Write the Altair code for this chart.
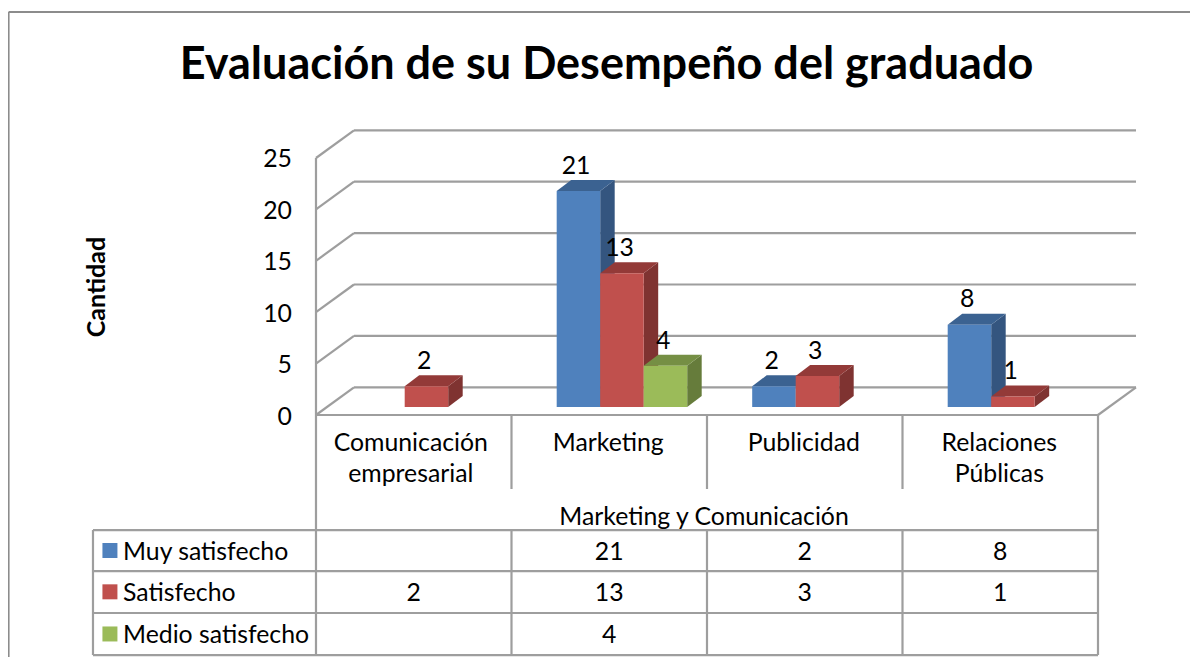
import altair as alt
import pandas as pd

categories = ["Comunicación\nempresarial", "Marketing", "Publicidad", "Relaciones\nPúblicas"]
group_label = "Marketing y Comunicación"
title = "Evaluación de su Desempeño del graduado"
axis_title = "Cantidad"
ticks = [0, 5, 10, 15, 20, 25]
series_names = ["Muy satisfecho", "Satisfecho", "Medio satisfecho"]
muy = [None, 21, 2, 8]
sat = [2, 13, 3, 1]
medio = [None, 4, None, None]
series_values = [muy, sat, medio]
front = ["#4F81BD", "#C0504D", "#9BBB59"]
side = ["#34557F", "#7F3331", "#667C3B"]
top = ["#3B6291", "#933A38", "#758F44"]

FONT = "Lato"
GRID = "#9E9E9E"
TEXT = "#000000"

# Layout, in chart units (x: categories, y: values)
XMIN, XMAX = -1.5754, 4.4706
YMIN, YMAX = -23.54, 39.59
WALL_DX, WALL_DY = 0.1944, 2.695
BAR_W, BAR_START = 0.2225, 0.2312
BAR_DX, BAR_DY = 0.0742, 1.07
BAR_BASE = 0.79
N = len(categories)
TBL_LEFT = -1.1407
ROW_LINES = [-11.19, -15.18, -19.26, -23.35]
ROW_MID = [-13.18, -17.2, -21.3]

x_s = alt.Scale(domain=[XMIN, XMAX], nice=False, zero=False)
y_s = alt.Scale(domain=[YMIN, YMAX], nice=False, zero=False)
X = alt.X("x:Q", scale=x_s, axis=None)
Y = alt.Y("y:Q", scale=y_s, axis=None)
X2 = alt.X2("x2:Q")
Y2 = alt.Y2("y2:Q")


def seg(x, y, x2, y2):
    return {"x": x, "y": y, "x2": x2, "y2": y2}


# frame and walls
grid_rows = []
for t in ticks:
    grid_rows.append(seg(0, t, WALL_DX, t + WALL_DY))
    grid_rows.append(seg(WALL_DX, t + WALL_DY, N + WALL_DX, t + WALL_DY))
grid_rows.append(seg(N, 0, N + WALL_DX, WALL_DY))
grid_rows.append(seg(0, 0, N, 0))
grid_rows.append(seg(0, ROW_LINES[-1], 0, 25))
grid_rows.append(seg(N, ROW_LINES[-1], N, 0))
for i in range(1, N):
    grid_rows.append(seg(i, 0, i, -7.2))
    grid_rows.append(seg(i, ROW_LINES[0], i, ROW_LINES[-1]))
grid_rows.append(seg(TBL_LEFT, ROW_LINES[0], TBL_LEFT, ROW_LINES[-1]))
for r in ROW_LINES:
    grid_rows.append(seg(TBL_LEFT, r, N, r))
grid = alt.Chart(pd.DataFrame(grid_rows)).mark_rule(color=GRID, strokeWidth=2.2).encode(x=X, y=Y, x2=X2, y2=Y2)

border = alt.Chart(pd.DataFrame([
    seg(XMIN + 0.003, YMIN, XMIN + 0.003, 39.2),
    seg(XMIN + 0.003, 39.2, XMAX, 39.2),
])).mark_rule(color="#8C8C8C", strokeWidth=2).encode(x=X, y=Y, x2=X2, y2=Y2)

layers = [border, grid]
labels = []
for s, values in enumerate(series_values):
    fronts, tops, sides = [], [], []
    for c, v in enumerate(values):
        if v is None:
            continue
        a = c + BAR_START + s * BAR_W
        b = a + BAR_W
        h = v + BAR_BASE
        fronts.append(seg(a, BAR_BASE, b, h))
        sides += [
            {"bar": c, "x": b, "y": BAR_BASE, "y2": h},
            {"bar": c, "x": b + BAR_DX, "y": BAR_BASE + BAR_DY, "y2": h + BAR_DY},
        ]
        tops += [
            {"bar": c, "x": a, "y": h, "y2": h},
            {"bar": c, "x": a + BAR_DX, "y": h, "y2": h + BAR_DY},
            {"bar": c, "x": b, "y": h, "y2": h + BAR_DY},
            {"bar": c, "x": b + BAR_DX, "y": h + BAR_DY, "y2": h + BAR_DY},
        ]
        labels.append({"x": a + BAR_W / 2 - 0.012, "y": h + 2.6, "t": str(v)})
    layers.append(alt.Chart(pd.DataFrame(sides)).mark_area(color=side[s], opacity=1, interpolate="linear")
                  .encode(x=X, y=Y, y2=Y2, detail="bar:N"))
    layers.append(alt.Chart(pd.DataFrame(tops)).mark_area(color=top[s], opacity=1, interpolate="linear")
                  .encode(x=X, y=Y, y2=Y2, detail="bar:N"))
    layers.append(alt.Chart(pd.DataFrame(fronts)).mark_rect(color=front[s])
                  .encode(x=X, y=Y, x2=X2, y2=Y2))


def text_layer(rows, size=24.8, align="center", bold=False, angle=0, dy=2.5):
    kw = dict(font=FONT, fontSize=size, align=align, baseline="middle", color=TEXT, dy=dy,
              fontWeight="bold" if bold else "normal")
    if angle:
        kw["angle"] = angle
    return alt.Chart(pd.DataFrame(rows)).mark_text(**kw).encode(x=X, y=Y, text="t:N")


layers.append(text_layer(labels))
layers.append(text_layer([{"x": -0.123, "y": t, "t": str(t)} for t in ticks], align="right"))
layers.append(text_layer([{"x": 1.486, "y": 34.24, "t": title}], size=45, bold=True, dy=2))
layers.append(text_layer([{"x": -1.13, "y": 12.45, "t": axis_title}], size=25, bold=True, angle=270, dy=1.5))

cat_rows = []
for i, c in enumerate(categories):
    parts = c.split("\n")
    for j, p in enumerate(parts):
        cat_rows.append({"x": i + (0.485 if i == 0 else 0.495), "y": -2.53 - 3.11 * j, "t": p})
cat_rows.append({"x": 1.985, "y": -9.73, "t": group_label})
layers.append(text_layer(cat_rows))

cell_rows = []
for s, values in enumerate(series_values):
    for c, v in enumerate(values):
        if v is not None:
            cell_rows.append({"x": c + 0.5, "y": ROW_MID[s], "t": str(v)})
layers.append(text_layer(cell_rows))
layers.append(text_layer([{"x": -0.987, "y": ROW_MID[s], "t": n} for s, n in enumerate(series_names)], align="left"))

swatch = pd.DataFrame({"x": [-1.054] * 3, "y": ROW_MID, "c": series_names})
layers.append(alt.Chart(swatch).mark_square(size=225, opacity=1).encode(
    x=X, y=Y,
    color=alt.Color("c:N", scale=alt.Scale(domain=series_names, range=front), legend=None)))

chart = alt.layer(*layers).properties(
    width=1182, height=649, padding=0, autosize=alt.AutoSizeParams(type="none"), background="white"
).configure_view(stroke=None)

chart.save("out.html", embed_options={"renderer": "svg", "actions": False})
